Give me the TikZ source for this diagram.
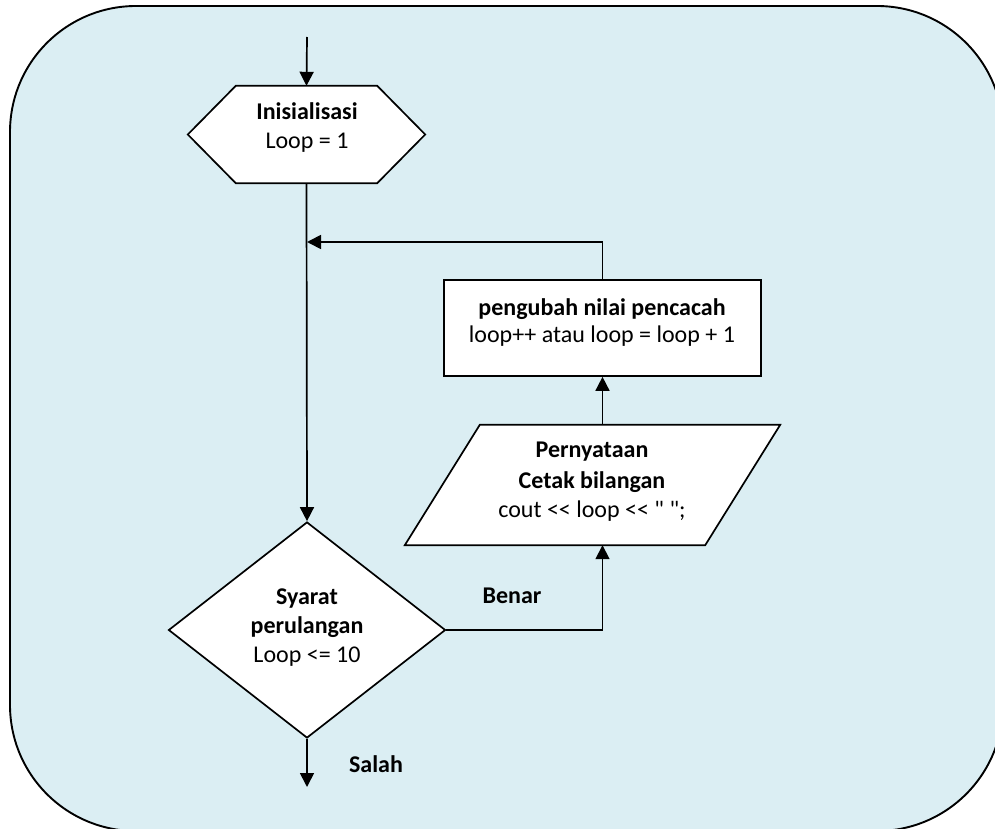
\documentclass[tikz,border=0pt]{standalone}
\usepackage{fontspec}
\setmainfont{Carlito}[Ligatures=TeXOff]
\usetikzlibrary{arrows.meta,calc,shapes.geometric}
\definecolor{panel}{HTML}{DBEEF3}
\begin{document}
\begin{tikzpicture}[x=1pt,y=-1pt,
  txt/.style={font=\fontsize{24}{29}\selectfont, inner sep=0pt, anchor=base},
  txtb/.style={font=\fontsize{24}{29}\selectfont\bfseries, inner sep=0pt, anchor=base},
  outline/.style={draw=black, line width=1.7pt, fill=white, line join=miter},
  holder/.style={draw=none, inner sep=0pt},
  flow/.style={draw=black, line width=1.7pt, -{Triangle[length=14pt,width=14pt]}},
  wire/.style={draw=black, line width=1.7pt}
]
\useasboundingbox (0,0) rectangle (995,829);
\clip (0,0) rectangle (995,829);

% panel behind the flowchart
\draw[line width=1.9pt, fill=panel, rounded corners=126pt] (10,6) rectangle (1003,831);

% initialisation (hexagon)
\node[holder, minimum width=237pt, minimum height=97pt] (init) at (306.5,134.5) {};
\draw[outline] ($(init.north west)+(48,0)$) -- ($(init.north east)+(-48,0)$) -- (init.east)
  -- ($(init.south east)+(-48,0)$) -- ($(init.south west)+(48,0)$) -- (init.west) -- cycle;

% update step (rectangle)
\node[outline, inner sep=0pt, minimum width=317pt, minimum height=96pt] (upd) at (602.5,328) {};

% output statement (parallelogram)
\node[holder, minimum width=375pt, minimum height=120pt] (out) at (592.5,485) {};
\draw[outline] ($(out.north west)+(75,0)$) -- (out.north east) -- ($(out.south east)+(-75,0)$)
  -- (out.south west) -- cycle;

% loop condition (diamond)
\node[outline, shape=diamond, inner sep=0pt, minimum width=277pt, minimum height=216pt] (cond) at (307,630) {};

% connectors
\coordinate (start) at (307,37);
\coordinate (join) at (307,242);
\coordinate (exit) at (307,787);
\draw[flow] (start) -- (init.north);
\draw[flow] (init.south) -- (cond.north);
\draw[flow] (cond.east) -| (upd.south |- out.south);
\draw[flow] (upd.south |- out.north) -- (upd.south);
\draw[flow] (upd.north) |- (join);
\draw[flow] (cond.south) -- (exit);

% texts
\node[txtb] (initA) at (307,120) {Inisialisasi};
\node[txt]  (initB) at (307,149) {Loop = 1};

\node[txtb] (updA) at (602,315) {pengubah nilai pencacah};
\node[txt]  (updB) at (602,342) {loop++ atau loop = loop + 1};

\node[txtb] (outA) at (592,457) {Pernyataan};
\node[txtb] (outB) at (592,488) {Cetak bilangan};
\node[txt]  (outC) at (592,517) {cout << loop << " ";};

\node[txtb] (condA) at (307,604) {Syarat};
\node[txtb] (condB) at (307,633) {perulangan};
\node[txt]  (condC) at (307,662) {Loop <= 10};

\node[txtb] (yes) at (512,603) {Benar};
\node[txtb] (no)  at (376,772) {Salah};
\end{tikzpicture}
\end{document}
